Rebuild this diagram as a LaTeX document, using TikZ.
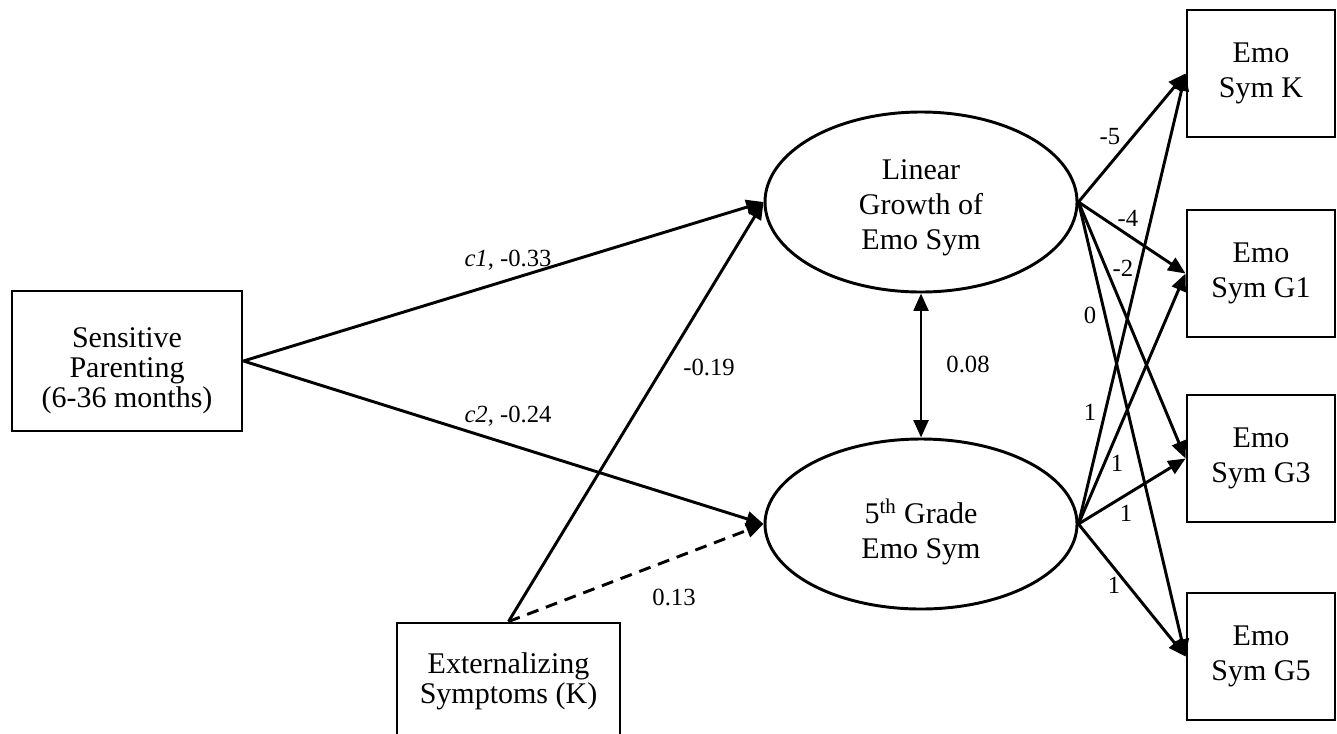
\documentclass[tikz,border=0pt]{standalone}
\usepackage{fontspec}
\setmainfont{Liberation Serif}
\usetikzlibrary{arrows.meta,shapes.geometric}
\begin{document}
\begin{tikzpicture}[x=0.75pt,y=-0.75pt,
  box/.style={draw,line width=2.2pt,inner sep=0pt,align=center,
    font=\fontsize{22.5pt}{22.5pt}\selectfont},
  indicator/.style={box,minimum width=111pt,minimum height=95.25pt,
    font=\fontsize{22.5pt}{26.25pt}\selectfont},
  latent/.style={draw,ellipse,line width=2.2pt,inner sep=0pt,align=center,
    minimum width=234pt,font=\fontsize{22.5pt}{26.25pt}\selectfont},
  path/.style={line width=2.2pt,-{Triangle[length=13pt,width=11pt]}},
  lbl/.style={inner sep=0pt,font=\fontsize{18.5pt}{20pt}\selectfont}]
\useasboundingbox (0,0) rectangle (1337,733);
\clip (0,0) rectangle (1337,733);

% observed predictors
\node[box,minimum width=172.5pt,minimum height=105pt] (sp) at (127,361)
  {\rule{0pt}{29pt}Sensitive\\Parenting\\(6-36 months)};
\node[box,minimum width=167.25pt,minimum height=87.75pt] (ext) at (508.5,681.5)
  {Externalizing\\Symptoms (K)};

% latent factors
\node[latent,minimum height=135pt] (lin) at (921,202)
  {\rule{0pt}{23pt}Linear\\Growth of\\Emo Sym};
\node[latent,minimum height=127.5pt] (fif) at (921,524)
  {\rule{0pt}{30pt}5\textsuperscript{th} Grade\\Emo Sym};

% indicators
\node[indicator] (k)  at (1261,73.5)  {Emo\\Sym K};
\node[indicator] (g1) at (1261,273.5) {Emo\\Sym G1};
\node[indicator] (g3) at (1261,458.5) {Emo\\Sym G3};
\node[indicator] (g5) at (1261,656.5) {Emo\\Sym G5};

% structural paths
\draw[path] (sp.east) -- (lin.west);
\draw[path] (sp.east) -- (fif.west);
\draw[path] (ext.north) -- (lin.west);
\draw[path,dash pattern=on 9pt off 6pt] (ext.north) -- (fif.west);
\draw[line width=2.2pt,{Triangle[length=13pt,width=11pt]}-{Triangle[length=13pt,width=11pt]}]
  (lin.south) -- (fif.north);

% loadings
\foreach \t in {k,g1,g3,g5} {
  \draw[path] (lin.east) -- (\t.west);
  \draw[path] (fif.east) -- (\t.west);
}

% coefficients
\node[lbl] at (508,260) {\textit{c1}, -0.33};
\node[lbl] at (508,416) {\textit{c2}, -0.24};
\node[lbl] at (709,367) {-0.19};
\node[lbl] at (674,597) {0.13};
\node[lbl] at (968,364) {0.08};
\node[lbl] at (1110,137) {-5};
\node[lbl] at (1128,218) {-4};
\node[lbl] at (1123,268) {-2};
\node[lbl] at (1090,315) {0};
\node[lbl] at (1090,412) {1};
\node[lbl] at (1117,463) {1};
\node[lbl] at (1126,513) {1};
\node[lbl] at (1114,585) {1};
\end{tikzpicture}
\end{document}
